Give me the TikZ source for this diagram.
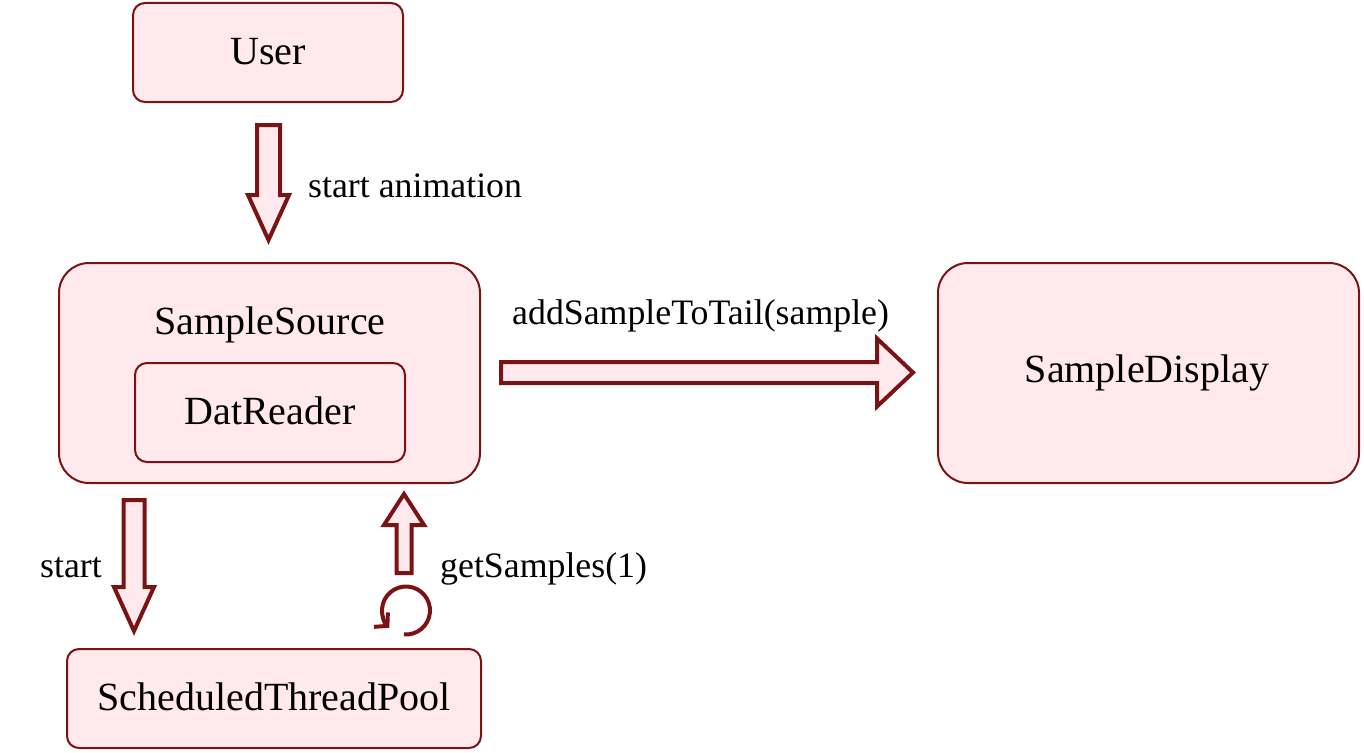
\documentclass[tikz,border=0pt]{standalone}
\usepackage{fontspec}
\setmainfont{Liberation Serif}
\usetikzlibrary{calc,arrows.meta}
\definecolor{bord}{HTML}{7A1414}
\definecolor{pinkfill}{HTML}{FFE9EC}
\tikzset{
  box/.style={draw=bord, fill=pinkfill, line width=2pt, rounded corners=12pt, inner sep=0pt},
  bigbox/.style={box, rounded corners=30pt},
  btext/.style={font=\fontsize{40}{46}\selectfont, inner sep=0pt},
  barrow/.style={draw=bord, fill=pinkfill, line width=4pt, line join=miter},
  lbl/.style={font=\fontsize{35.8}{40}\selectfont, inner sep=0pt, anchor=west}
}
% vertical block arrow: #1 tail, #2 tip, #3 half shaft, #4 half head, #5 signed head length
\newcommand{\vblock}[5]{\draw[barrow] ($(#1)+(-#3,0)$) -- ($(#2)+(-#3,#5)$) -- ($(#2)+(-#4,#5)$) -- (#2) -- ($(#2)+(#4,#5)$) -- ($(#2)+(#3,#5)$) -- ($(#1)+(#3,0)$) -- cycle;}
\newcommand{\hblock}[5]{\draw[barrow] ($(#1)+(0,#3)$) -- ($(#2)+(-#5,#3)$) -- ($(#2)+(-#5,#4)$) -- (#2) -- ($(#2)+(-#5,-#4)$) -- ($(#2)+(-#5,-#3)$) -- ($(#1)+(0,-#3)$) -- cycle;}
\begin{document}
\begin{tikzpicture}[x=1pt,y=1pt]
\useasboundingbox (0,0) rectangle (1364,-752);
% boxes
\draw[box] (133,-3) rectangle (403,-102);
\node[btext] (user) at (268,-52) {User};
\draw[bigbox] (59,-263) rectangle (480,-483);
\node[btext] (src) at (270,-325) {SampleSource};
\draw[box] (135,-363) rectangle (405,-462);
\node[btext] (dat) at (270,-411) {DatReader};
\draw[bigbox] (938,-263) rectangle (1359,-483);
\node[btext] (disp) at (1147,-373) {SampleDisplay};
\draw[box] (67,-649) rectangle (481,-748);
\node[btext] (pool) at (274,-697) {ScheduledThreadPool};
% block arrows
\coordinate (a1t) at (268.5,-125);
\coordinate (a1h) at (268.5,-240);
\vblock{a1t}{a1h}{11.5}{20.5}{45}
\node[lbl] (l1) at (308,-186) {start animation};
\coordinate (a2t) at (501,-372.5);
\coordinate (a2h) at (913,-372.5);
\hblock{a2t}{a2h}{10.5}{34}{36}
\node[lbl] (l2) at (512,-316) {addSampleToTail(sample)};
\coordinate (a3t) at (134,-500);
\coordinate (a3h) at (134,-631);
\vblock{a3t}{a3h}{10.5}{20}{44}
\node[lbl] (l3) at (40,-568) {start};
\coordinate (a4t) at (404,-573);
\coordinate (a4h) at (404,-494);
\vblock{a4t}{a4h}{7.5}{20}{-31}
\node[lbl] (l4) at (440,-569) {getSamples(1)};
% loop arrow
\coordinate (lc) at (406,-610.5);
\draw[draw=bord, line width=4pt, -{Straight Barb[length=9pt,width=20pt]}] ($(lc)+(-95:24)$) arc[start angle=-95, end angle=226, radius=24];
\end{tikzpicture}
\end{document}
